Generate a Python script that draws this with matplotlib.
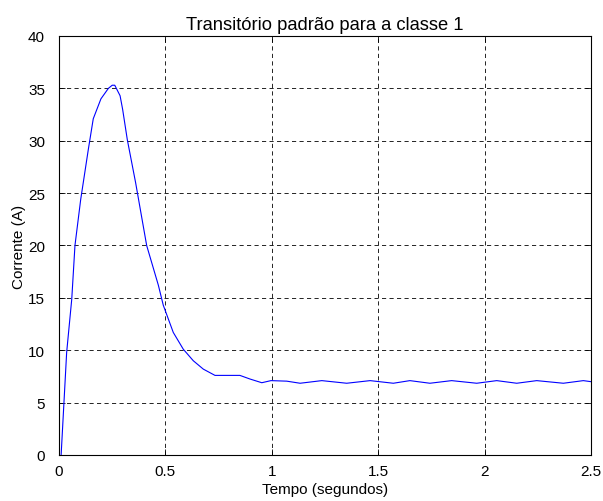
import matplotlib.pyplot as plt

# transient current samples (time in s, current in A)
tempo = [0.01, 0.036, 0.06, 0.075, 0.102, 0.138, 0.161, 0.197, 0.232, 0.250,
         0.262, 0.272, 0.287, 0.299, 0.321, 0.36, 0.412, 0.467, 0.49, 0.537,
         0.584, 0.631, 0.678, 0.733, 0.80, 0.85, 0.898, 0.953, 0.996, 1.07,
         1.133, 1.235, 1.352, 1.462, 1.571, 1.649, 1.743, 1.845, 1.963, 2.057,
         2.151, 2.245, 2.37, 2.464, 2.5]
corrente = [0.0, 9.8, 14.9, 20.0, 24.4, 29.2, 32.1, 34.0, 35.0, 35.3,
            35.3, 34.9, 34.3, 33.0, 30.1, 26.0, 20.0, 16.2, 14.3, 11.7,
            10.1, 9.0, 8.2, 7.6, 7.6, 7.6, 7.25, 6.9, 7.1, 7.05,
            6.85, 7.1, 6.85, 7.1, 6.85, 7.1, 6.85, 7.1, 6.85, 7.1,
            6.85, 7.1, 6.85, 7.1, 7.0]

xticks = [0, 0.5, 1, 1.5, 2, 2.5]
xtick_labels = ['0', '0.5', '1', '1.5', '2', '2.5']
yticks = [0, 5, 10, 15, 20, 25, 30, 35, 40]

plt.rcParams['font.family'] = ['Liberation Sans', 'DejaVu Sans']
plt.rcParams['font.size'] = 11

fig = plt.figure(figsize=(6.03, 5.02), dpi=100)
ax = fig.add_axes([59 / 603, 1 - 456 / 502, 532 / 603, 419 / 502])

ax.plot(tempo, corrente, color='#0000ff', linewidth=0.8)

ax.set_xlim(0, 2.5)
ax.set_ylim(0, 40)
ax.set_xticks(xticks)
ax.set_xticklabels(xtick_labels)
ax.set_yticks(yticks)
ax.tick_params(direction='in', top=True, right=True, length=4, width=0.6,
               colors='black')
ax.tick_params(axis='x', pad=6.5)
ax.tick_params(axis='y', pad=10)

ax.grid(True, color='black', linestyle=(0, (5, 4)), linewidth=0.6)
for s in ax.spines.values():
    s.set_linewidth(0.8)

ax.set_title('Transitório padrão para a classe 1', pad=5)
ax.set_xlabel('Tempo (segundos)')
ax.set_ylabel('Corrente (A)')
ax.xaxis.set_label_coords(0.5, -0.081)
ax.yaxis.set_label_coords(-0.075, 0.5)
ax.xaxis.label.set_va('center')
ax.yaxis.label.set_va('center')

fig.savefig('out.png', dpi=100)
